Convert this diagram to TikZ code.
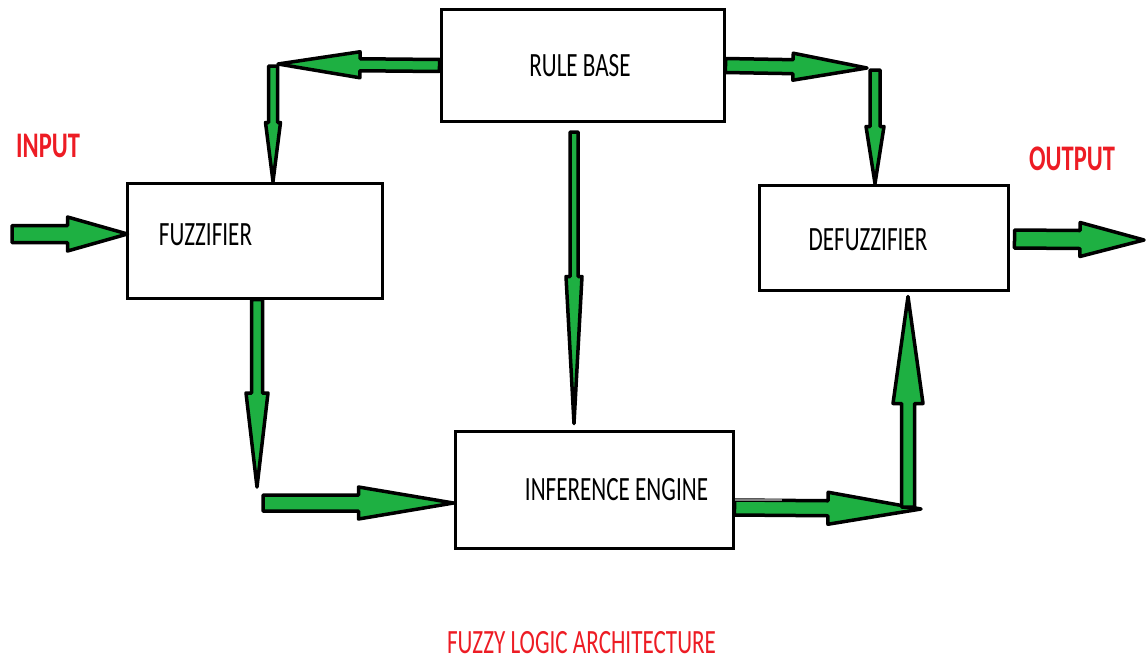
\documentclass[tikz,border=0pt]{standalone}
\usepackage{fontspec}
\usepackage{tikz}
\usetikzlibrary{calc}
\newfontfamily\paintfont[FakeStretch=0.68]{Carlito}
\definecolor{paintgreen}{RGB}{30,176,66}
\definecolor{paintred}{RGB}{237,28,36}

% fat green arrow with black outline: tail, tip, shaft half width, head half width, head length
\newcommand{\blockarrow}[5]{%
  \coordinate (ba) at ($(#2)!#5pt!(#1)$);
  \draw[greenarrow] ($(#1)!#3pt!90:(#2)$) -- ($(ba)!#3pt!-90:(#1)$)
    -- ($(ba)!#4pt!-90:(#1)$) -- (#2) -- ($(ba)!#4pt!90:(#1)$)
    -- ($(ba)!#3pt!90:(#1)$) -- ($(#1)!#3pt!-90:(#2)$) -- cycle;}

\tikzset{
  block/.style={draw, line width=3pt, rectangle, inner sep=0pt},
  boxtext/.style={anchor=base, inner sep=0pt, font=\paintfont\fontsize{34}{40}\selectfont},
  redtext/.style={anchor=base, inner sep=0pt, text=paintred},
  greenarrow/.style={draw=black, fill=paintgreen, line width=3.5pt, line join=round},
}

\begin{document}
\begin{tikzpicture}[x=1pt,y=1pt,yscale=-1,xscale=1]
\useasboundingbox (0,0) rectangle (1147,661);

%Shape: Rectangle
\node[block, minimum width=283pt, minimum height=111pt] (rule) at (582.5,65.5) {};
%Shape: Rectangle
\node[block, minimum width=255pt, minimum height=115pt] (fuzz) at (254.5,240.5) {};
%Shape: Rectangle
\node[block, minimum width=249pt, minimum height=105pt] (defuzz) at (883.5,237.5) {};
%Shape: Rectangle
\node[block, minimum width=278pt, minimum height=117pt] (infer) at (594,489.5) {};

% Text Node
\node[boxtext] (ruletext) at (580,76) {RULE BASE};
% Text Node
\node[boxtext] (fuzztext) at (205.5,245) {FUZZIFIER};
% Text Node
\node[boxtext] (defuzztext) at (868,250) {DEFUZZIFIER};
% Text Node
\node[boxtext] (infertext) at (616.5,500) {INFERENCE ENGINE};
% Text Node
\node[redtext, font=\paintfont\bfseries\fontsize{36}{42}\selectfont] (input) at (48,157) {INPUT};
% Text Node
\node[redtext, font=\paintfont\bfseries\fontsize{36}{42}\selectfont] (output) at (1072,170) {OUTPUT};
% Text Node
\node[redtext, font=\paintfont\fontsize{34}{40}\selectfont] (title) at (581.5,653) {FUZZY LOGIC ARCHITECTURE};

% arrow ends and corners
\coordinate (in) at (12,234);
\coordinate (fuzzin) at ($(fuzz.west |- in)+(2,0)$);
\coordinate (rl) at (278,64);
\coordinate (ld) at (273,66);
\coordinate (fuzztop) at (fuzz.north -| ld);
\coordinate (rr) at (867,68);
\coordinate (rd) at (875,70);
\coordinate (defuzztop) at (defuzz.north -| rd);
\coordinate (rb) at (574,132);
\coordinate (infertop) at ($(rb |- infer.north)+(0,-6)$);
\coordinate (fd) at (257,487);
\coordinate (fuzzbot) at (fuzz.south -| fd);
\coordinate (ft) at (263,503);
\coordinate (inferin) at (infer.west |- ft);
\coordinate (ir) at (921,509);
\coordinate (iu) at (908,507);
\coordinate (inferout) at (infer.east |- 0,507.5);
\coordinate (defuzzbot) at ($(defuzz.south -| iu)+(0,5)$);
\coordinate (out) at (1144,240);
\coordinate (defuzzout) at ($(defuzz.east |- 0,239)+(5,0)$);

%Shape: Block Arrow
\blockarrow{in}{fuzzin}{8.5}{17}{60}
\blockarrow{rule.west}{rl}{6}{13}{82}
\blockarrow{ld}{fuzztop}{4.5}{7.5}{59}
\blockarrow{rule.east}{rr}{7}{13.5}{74}
\blockarrow{rd}{defuzztop}{5}{9}{57}
\blockarrow{rb}{infertop}{4}{8}{147}
\blockarrow{fuzzbot}{fd}{5.5}{11}{94}
\blockarrow{ft}{inferin}{8}{16}{95}
\blockarrow{inferout}{ir}{7.5}{16}{93}
\blockarrow{iu}{defuzzbot}{6.5}{15}{107}
\blockarrow{defuzzout}{out}{9}{17}{64}

%Straight Lines
\draw[gray, line width=2pt] ($(inferout)+(0,-7.5)$) -- ++(47,0);

\end{tikzpicture}
\end{document}
